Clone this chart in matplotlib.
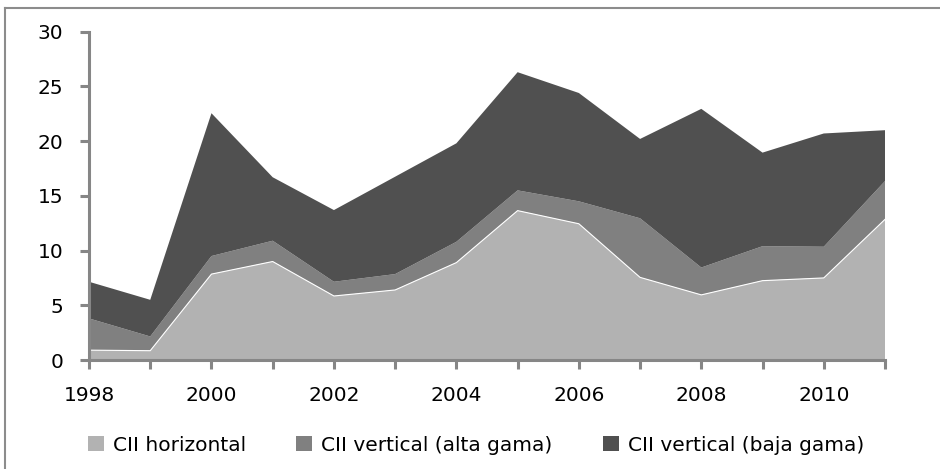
import matplotlib
matplotlib.use("Agg")
import matplotlib.pyplot as plt
from matplotlib.lines import Line2D
from matplotlib.patches import Patch

years = list(range(1998, 2012))
horizontal = [0.9, 0.85, 7.85, 9.0, 5.85, 6.4, 8.9, 13.65, 12.45, 7.55, 5.95, 7.25, 7.5, 12.85]
alta = [2.9, 1.3, 1.65, 1.9, 1.3, 1.45, 1.9, 1.85, 2.05, 5.4, 2.5, 3.15, 2.85, 3.5]
baja = [3.35, 3.35, 13.05, 5.8, 6.55, 8.9, 9.0, 10.8, 9.9, 7.25, 14.5, 8.55, 10.35, 4.65]
labels = ["CII horizontal", "CII vertical (alta gama)", "CII vertical (baja gama)"]
colors = ["#b2b2b2", "#808080", "#505050"]

plt.rcParams['font.family'] = ['DejaVu Sans']

W, H = 940, 469
fig = plt.figure(figsize=(W/100, H/100), dpi=100)
ax = fig.add_axes([89/W, 1 - 360/H, (885-89)/W, (360-31.7)/H])

ax.stackplot(years, horizontal, alta, baja, colors=colors, linewidth=0)
ax.plot(years, horizontal, color="white", lw=0.8, zorder=3)

ax.set_xlim(1998, 2011)
ax.set_ylim(0, 30)
ax.set_yticks(range(0, 31, 5))
ax.set_xticks(years)
ax.set_xticklabels([str(y) if (y % 2 == 0) else "" for y in years])
for s in ["top", "right"]:
    ax.spines[s].set_visible(False)
for s in ["left", "bottom"]:
    ax.spines[s].set_color("#868686")
    ax.spines[s].set_linewidth(2.2)
    ax.spines[s].set_zorder(5)
ax.tick_params(axis="both", color="#868686", width=2.2, length=6.5, labelsize=14.5, labelcolor="black")
ax.tick_params(axis="x", pad=12)
ax.tick_params(axis="y", pad=12)

handles = [Patch(facecolor=c, edgecolor="none") for c in colors]
fig.legend(handles, labels, loc="center", bbox_to_anchor=(476/W, 1 - 445/H), ncol=3,
           frameon=False, fontsize=14.5, handlelength=0.8, handleheight=0.8,
           handletextpad=0.45, columnspacing=2.5)

# outer frame (left and top edges visible)
fig.add_artist(Line2D([5/W, 5/W], [0, 1 - 8/H], transform=fig.transFigure, color="#8c8c8c", lw=1.5))
fig.add_artist(Line2D([5/W, 1], [1 - 8/H, 1 - 8/H], transform=fig.transFigure, color="#8c8c8c", lw=1.5))

fig.savefig("out.png", dpi=100)
